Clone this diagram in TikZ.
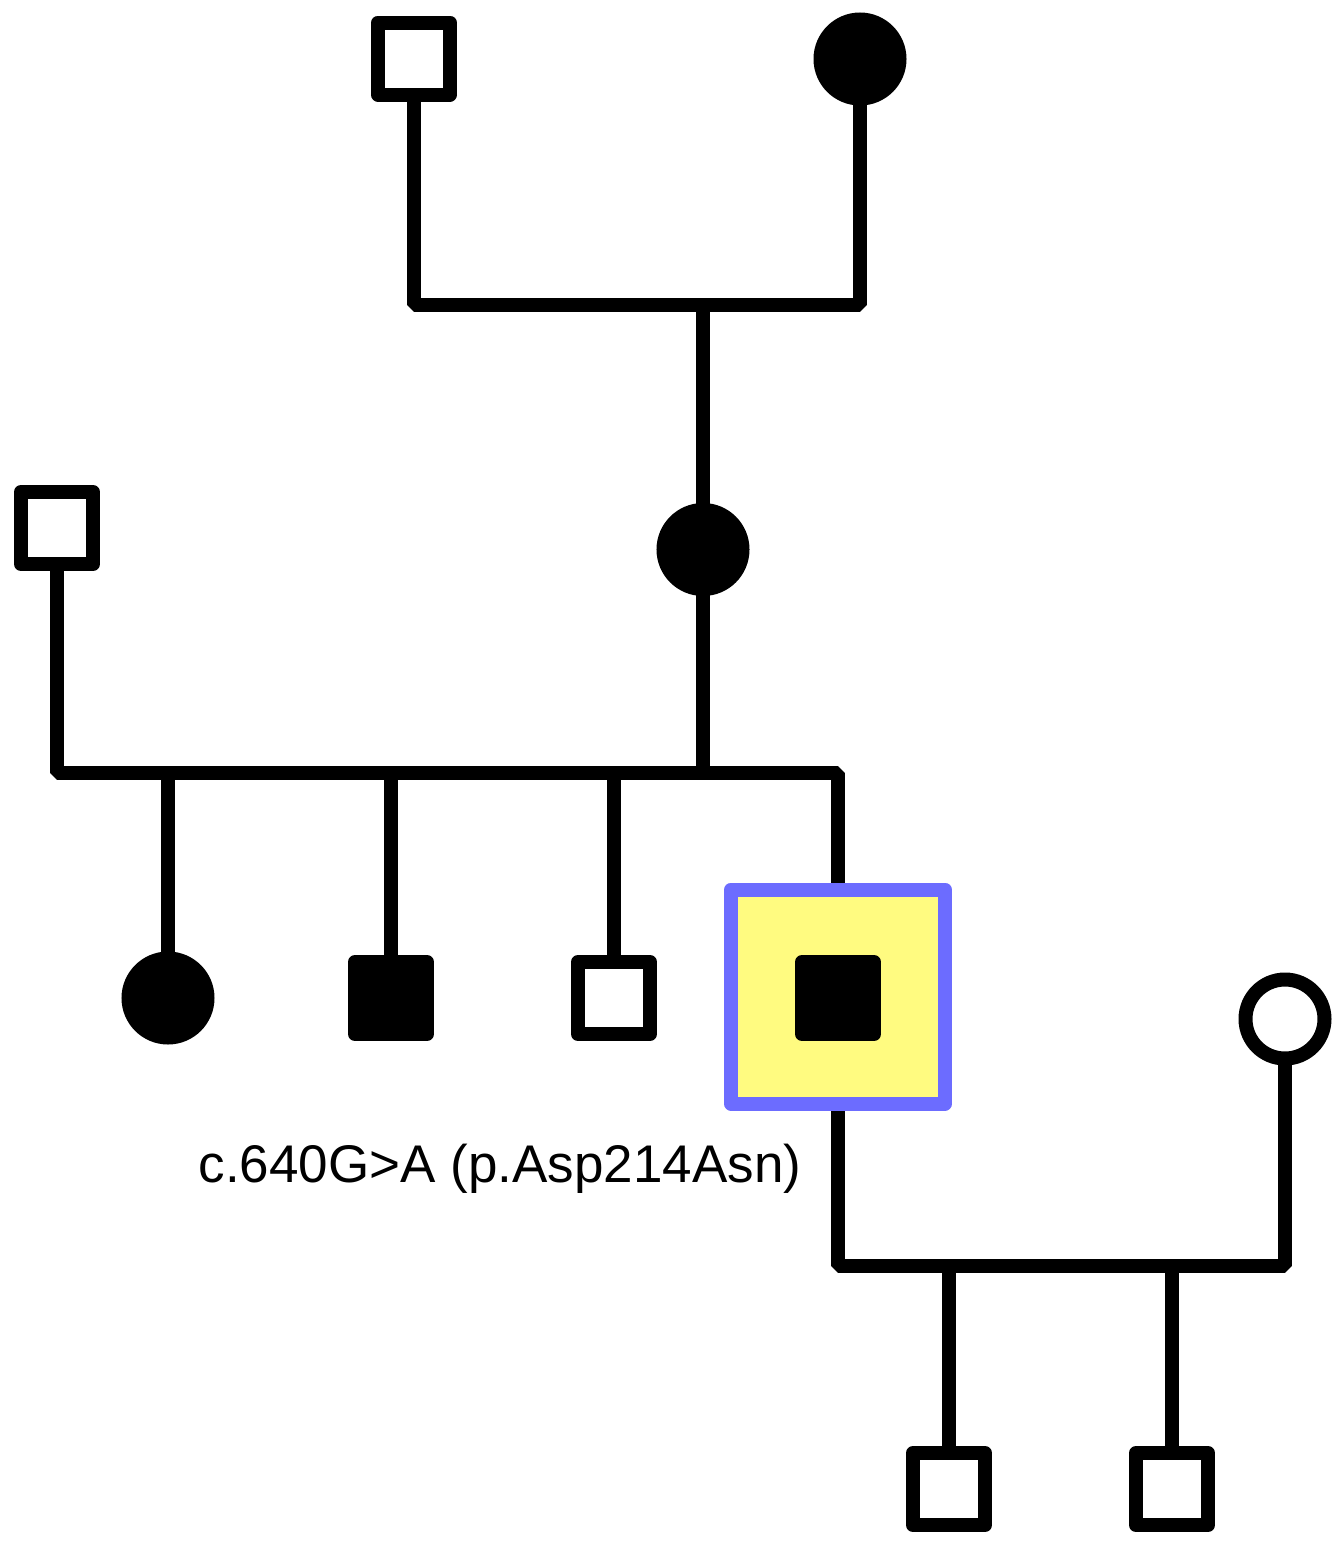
\documentclass[tikz,border=0pt]{standalone}
\usepackage{fontspec}
\setmainfont{Liberation Sans}
\usetikzlibrary{backgrounds}
\definecolor{hlyellow}{RGB}{255,251,128}
\definecolor{hlblue}{RGB}{108,108,255}
\begin{document}
\begin{tikzpicture}[x=1pt,y=-1pt,
  male/.style={draw, line width=14pt, line join=round, minimum size=72pt, inner sep=0pt, outer sep=0pt, fill=white},
  female/.style={circle, draw, line width=14pt, minimum size=79pt, inner sep=0pt, outer sep=0pt, fill=white},
  aff/.style={fill=black},
  highlight/.style={draw=hlblue, fill=hlyellow, line width=14pt, line join=round, minimum size=214pt, inner sep=0pt, outer sep=0pt},
  link/.style={line width=14pt, line join=bevel}]
\useasboundingbox (0,0) rectangle (1341,1545);
\node[male] (gf) at (414,58.5) {};
\node[female,aff] (gm) at (860,59) {};
\node[female,aff] (mo) at (703,549.5) {};
\node[male] (fa) at (57,528) {};
\node[female,aff] (s1) at (168,998) {};
\node[male,aff] (s2) at (391,998) {};
\node[male] (s3) at (614,998) {};
\node[highlight] (hl) at (838,996.5) {};
\node[male,aff] (pr) at (838,998) {};
\node[female] (sp) at (1285,1019) {};
\node[male] (k1) at (949,1489) {};
\node[male] (k2) at (1172,1489) {};
\node[anchor=base, font=\fontsize{53}{63}\selectfont, inner sep=0pt] (lab) at (500,1182) {c.640G>A (p.Asp214Asn)};
\coordinate (m1) at (0,305);
\coordinate (m2) at (0,773);
\coordinate (m3) at (0,1266);
\begin{scope}[on background layer]
\fill[white] (0,0) rectangle (1341,1545);
\draw[link] (gf) -- (gf |- m1) -- (gm |- m1) -- (gm);
\draw[link] (mo |- m1) -- (mo);
\draw[link] (fa) -- (fa |- m2) -- (pr |- m2) -- (pr);
\draw[link] (mo) -- (mo |- m2);
\draw[link] (s1) -- (s1 |- m2);
\draw[link] (s2) -- (s2 |- m2);
\draw[link] (s3) -- (s3 |- m2);
\draw[link] (pr) -- (pr |- m3) -- (sp |- m3) -- (sp);
\draw[link] (k1) -- (k1 |- m3);
\draw[link] (k2) -- (k2 |- m3);
\end{scope}
\end{tikzpicture}
\end{document}
